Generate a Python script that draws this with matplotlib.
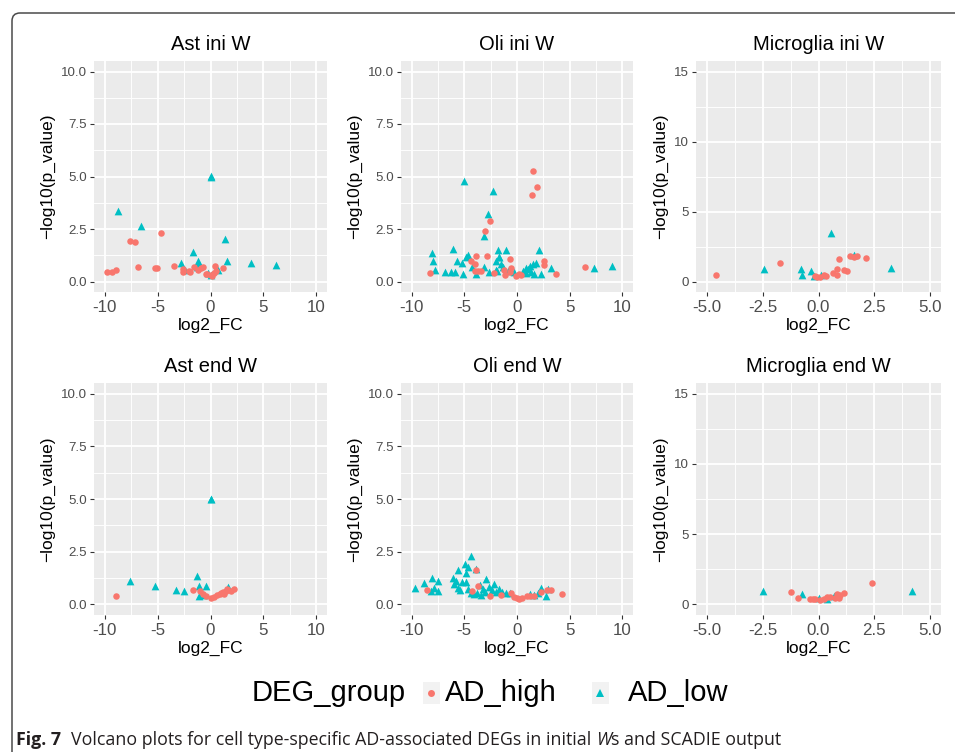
import matplotlib
matplotlib.use("Agg")
import matplotlib.pyplot as plt
from matplotlib import font_manager
from matplotlib.lines import Line2D
from matplotlib.patches import Rectangle, FancyBboxPatch
from matplotlib.ticker import MultipleLocator, FormatStrFormatter

# ---------------------------------------------------------------- data
# log2 fold change / -log10(p) per cell type, split by DEG group
AST_INI_HIGH_FC = [-9.75, -9.3, -8.95, -7.64, -7.1, -4.64, -6.82, -5.27, -5.05, -3.4, -2.55, -2.55, -2.0,
                   -1.9, -1.6, -1.15, -0.88, -0.7, -0.4, -0.33, 0.05, 0.1, 0.3, 0.4, 0.5, 1.18]
AST_INI_HIGH_P = [0.45, 0.44, 0.56, 1.94, 1.9, 2.31, 0.70, 0.62, 0.62, 0.73, 0.6, 0.47, 0.48,
                  0.46, 0.68, 0.55, 0.65, 0.7, 0.38, 0.38, 0.32, 0.25, 0.4, 0.72, 0.52, 0.65]
AST_INI_LOW_FC = [0.0, 0.02, -8.77, -6.6, 1.37, -1.68, 1.56, 3.83, 6.22, -2.75, -1.2, -1.1, -2.4,
                  -1.27, -0.24, 0.05, 0.75]
AST_INI_LOW_P = [5.03, 5.0, 3.36, 2.64, 2.04, 1.39, 1.0, 0.89, 0.80, 0.88, 1.0, 0.82, 0.55,
                 0.68, 0.42, 0.32, 0.55]

OLI_INI_HIGH_FC = [1.51, 1.92, 1.45, -2.52, -3.0, -3.88, -2.84, -0.68, -4.4, -4.0, -8.26, -4.0, -3.7,
                   -3.4, -2.15, -1.2, -0.67, -0.6, -0.1, 0.22, 0.35, 2.52, 2.52, 3.68, 6.42, -1.15]
OLI_INI_HIGH_P = [5.24, 4.51, 4.14, 2.9, 2.42, 1.21, 1.23, 1.05, 0.98, 0.84, 0.40, 0.5, 0.48,
                  0.5, 0.42, 0.55, 0.45, 0.66, 0.27, 0.35, 0.3, 0.96, 0.8, 0.37, 0.68, 0.3]
OLI_INI_LOW_FC = [-5.07, -2.3, -2.74, -3.15, -8.04, -7.98, -7.8, -6.08, -6.8, -6.3, -5.9, -5.1, -5.7,
                  -5.2, -4.8, -4.66, -4.3, -3.9, -3.12, -2.65, -1.8, -1.07, -2.0, -1.7, -1.5, -1.3,
                  -1.85, -0.9, -0.3, 0.53, 0.85, 1.2, 1.5, 1.8, 1.3, 1.6, 2.05, 2.25, 3.2, 7.3,
                  9.04, -1.67, -2.0, 0.9, 1.0]
OLI_INI_LOW_P = [4.78, 4.3, 3.23, 2.18, 1.35, 1.0, 0.55, 1.56, 0.47, 0.47, 0.47, 0.37, 0.97,
                 0.9, 1.16, 1.24, 0.7, 0.36, 0.7, 0.43, 1.51, 1.51, 1.0, 1.16, 0.85, 0.68,
                 0.5, 0.5, 0.43, 0.5, 0.65, 0.73, 0.82, 0.86, 0.43, 0.36, 1.51, 0.38, 0.62, 0.66,
                 0.75, 1.16, 0.55, 0.4, 0.6]

MIC_INI_HIGH_FC = [-4.61, -1.73, -0.15, -0.07, 0.08, 0.23, 0.35, 0.65, 0.83, 0.83, 0.92, 1.16, 1.28,
                   1.43, 1.58, 1.73, 2.14]
MIC_INI_HIGH_P = [0.48, 1.31, 0.38, 0.31, 0.31, 0.43, 0.38, 0.62, 0.91, 0.5, 1.6, 0.79, 0.74,
                  1.79, 1.76, 1.79, 1.67]
MIC_INI_LOW_FC = [0.56, -2.45, -0.78, -0.75, -0.33, -0.2, 0.12, 1.58, 3.26]
MIC_INI_LOW_P = [3.46, 0.91, 0.91, 0.48, 0.74, 0.36, 0.43, 1.89, 0.95]

AST_END_HIGH_FC = [-8.95, -1.64, -0.95, -0.7, -0.38, 0.0, 0.35, 0.6, 0.9, 1.2, 1.5, 1.6, 1.9, 2.2, 1.0, 1.3]
AST_END_HIGH_P = [0.38, 0.68, 0.65, 0.5, 0.38, 0.3, 0.35, 0.45, 0.5, 0.57, 0.65, 0.75, 0.62, 0.72, 0.55, 0.5]
AST_END_LOW_FC = [0.0, 0.02, -7.56, -5.27, -3.24, -2.5, -1.24, -1.08, -0.4, -1.04, -0.6, 1.63]
AST_END_LOW_P = [5.02, 5.0, 1.11, 0.88, 0.68, 0.62, 1.35, 0.88, 0.86, 0.4, 0.45, 0.82]

OLI_END_HIGH_FC = [-8.5, -3.9, -4.27, -3.7, -2.6, -0.55, -0.3, 0.0, 0.15, 0.95, 1.25, 1.6, 2.25,
                   2.85, 3.2, 4.3, -1.5, 0.5]
OLI_END_HIGH_P = [0.7, 1.64, 0.65, 0.88, 0.4, 0.52, 0.33, 0.3, 0.25, 0.4, 0.42, 0.4, 0.57,
                  0.67, 0.7, 0.5, 0.45, 0.3]
OLI_END_LOW_FC = [-9.7, -8.8, -8.1, -7.5, -7.9, -8.2, -7.5, -6.1, -5.6, -4.9, -4.86, -4.6, -4.4,
                  -3.9, -6.0, -5.8, -5.6, -5.4, -5.2, -4.8, -4.4, -4.1, -4.6, -2.9, -3.5, -3.2,
                  -3.0, -2.7, -2.4, -2.2, -2.0, -1.7, -1.4, -1.0, -0.7, -3.8, -3.4, 1.2, 1.6,
                  2.3, 2.9, 2.75, 2.0]
OLI_END_LOW_P = [0.77, 1.0, 1.24, 1.1, 0.78, 0.62, 0.65, 1.24, 1.62, 1.9, 1.5, 1.77, 2.31,
                 1.7, 0.95, 1.1, 0.8, 0.7, 1.05, 1.05, 0.55, 0.5, 0.75, 1.2, 0.9, 0.75,
                 0.6, 0.85, 0.7, 0.95, 0.6, 0.75, 0.6, 0.55, 0.55, 0.55, 0.45, 0.5, 0.45,
                 0.8, 0.72, 0.4, 0.55]

MIC_END_HIGH_FC = [-1.23, -0.9, -0.38, -0.25, -0.15, 0.07, 0.23, 0.38, 0.53, 0.75, 0.83, 0.98, 1.16, 2.4, 0.9]
MIC_END_HIGH_P = [0.91, 0.43, 0.38, 0.38, 0.38, 0.3, 0.36, 0.53, 0.53, 0.43, 0.77, 0.67, 0.84, 1.55, 0.48]
MIC_END_LOW_FC = [-2.5, -0.75, 0.0, 0.37, 0.68, 4.18]
MIC_END_LOW_P = [0.95, 0.72, 0.43, 0.36, 0.6, 0.96]

PANELS = [
    ("Ast ini W", AST_INI_HIGH_FC, AST_INI_HIGH_P, AST_INI_LOW_FC, AST_INI_LOW_P),
    ("Oli ini W", OLI_INI_HIGH_FC, OLI_INI_HIGH_P, OLI_INI_LOW_FC, OLI_INI_LOW_P),
    ("Microglia ini W", MIC_INI_HIGH_FC, MIC_INI_HIGH_P, MIC_INI_LOW_FC, MIC_INI_LOW_P),
    ("Ast end W", AST_END_HIGH_FC, AST_END_HIGH_P, AST_END_LOW_FC, AST_END_LOW_P),
    ("Oli end W", OLI_END_HIGH_FC, OLI_END_HIGH_P, OLI_END_LOW_FC, OLI_END_LOW_P),
    ("Microglia end W", MIC_END_HIGH_FC, MIC_END_HIGH_P, MIC_END_LOW_FC, MIC_END_LOW_P),
]

# ---------------------------------------------------------------- style
W, H = 955, 752
HIGH_COL = "#F8766D"
LOW_COL = "#00BFC4"
PANEL_BG = "#EBEBEB"


def pick_font(names):
    for n in names:
        try:
            font_manager.findfont(n, fallback_to_default=False)
            return n
        except ValueError:
            continue
    return "DejaVu Sans"


BASE_FONT = pick_font(["Liberation Sans", "Arial", "DejaVu Sans"])
CAPTION_FONT = pick_font(["Liberation Sans Narrow", "Open Sans", "Liberation Sans"])
plt.rcParams["font.family"] = [BASE_FONT, "DejaVu Sans"]

# panel boxes in pixels (left, right) / (top, bottom)
COLS = [(94, 327), (401, 633), (696, 941)]
ROWS = [(61, 292), (383, 615)]


def expand(lo, hi, frac=0.05):
    d = (hi - lo) * frac
    return lo - d, hi + d


fig = plt.figure(figsize=(W / 100, H / 100), dpi=100)

for i, (title, hx, hy, lx, ly) in enumerate(PANELS):
    r, c = divmod(i, 3)
    (x0, x1), (y0, y1) = COLS[c], ROWS[r]
    ax = fig.add_axes([x0 / W, 1 - y1 / H, (x1 - x0) / W, (y1 - y0) / H])
    ax.set_facecolor(PANEL_BG)
    for s in ax.spines.values():
        s.set_visible(False)

    microglia = title.startswith("Microglia")
    if microglia:
        ax.set_xlim(*expand(-5, 5))
        ax.set_ylim(*expand(0, 15))
        ax.xaxis.set_major_locator(MultipleLocator(2.5))
        ax.xaxis.set_minor_locator(MultipleLocator(1.25))
        ax.xaxis.set_major_formatter(FormatStrFormatter("%.1f"))
        ax.yaxis.set_major_locator(MultipleLocator(5))
        ax.yaxis.set_minor_locator(MultipleLocator(2.5))
        ax.yaxis.set_major_formatter(FormatStrFormatter("%d"))
    else:
        ax.set_xlim(*expand(-10, 10))
        ax.set_ylim(*expand(0, 10))
        ax.xaxis.set_major_locator(MultipleLocator(5))
        ax.xaxis.set_minor_locator(MultipleLocator(2.5))
        ax.xaxis.set_major_formatter(FormatStrFormatter("%d"))
        ax.yaxis.set_major_locator(MultipleLocator(2.5))
        ax.yaxis.set_minor_locator(MultipleLocator(1.25))
        ax.yaxis.set_major_formatter(FormatStrFormatter("%.1f"))

    ax.grid(which="major", color="white", lw=1.3)
    ax.grid(which="minor", color="white", lw=0.65)
    ax.set_axisbelow(True)
    ax.tick_params(which="minor", length=0)
    ax.tick_params(which="major", length=3, width=0.8, color="#333333")
    ax.tick_params(axis="x", labelsize=12.2, labelcolor="#4D4D4D", pad=3)
    ax.tick_params(axis="y", labelsize=9.6, labelcolor="#4D4D4D", pad=2)

    ax.scatter(lx, ly, marker="^", s=31, color=LOW_COL, linewidths=0, zorder=3)
    ax.scatter(hx, hy, marker="o", s=22, color=HIGH_COL, linewidths=0, zorder=3)

    ax.set_title(title, fontsize=14.5, pad=8)
    ax.set_xlabel("log2_FC", fontsize=12.5, labelpad=2)
    ax.set_ylabel("\u2212log10(p_value)", fontsize=12.5, labelpad=4)

# ---------------------------------------------------------------- legend (drawn in pixels)
LEG_SIZE = 21
LEG_Y = H - 693
fig.text(252 / W, LEG_Y / H, "DEG_group", fontsize=LEG_SIZE, va="center", ha="left")
for key_x, label_x, label, marker, ms, col in [(431, 445, "AD_high", "o", 5, HIGH_COL),
                                               (600, 628, "AD_low", "^", 5.5, LOW_COL)]:
    fig.add_artist(Rectangle((key_x - 8.5, LEG_Y - 11), 17, 22, transform=None,
                             facecolor="#F2F2F2", edgecolor="none"))
    fig.add_artist(Line2D([key_x], [LEG_Y], transform=None, marker=marker, ls="none",
                          ms=ms, color=col, mew=0))
    fig.text(label_x / W, LEG_Y / H, label, fontsize=LEG_SIZE, va="center", ha="left")

# ---------------------------------------------------------------- frame + caption
frame = FancyBboxPatch((12, -40), 1000, 739 + 40, boxstyle="round,pad=0,rounding_size=8",
                       transform=None, facecolor="none", edgecolor="#4A4A4A", lw=1.1)
fig.add_artist(frame)

renderer = fig.canvas.get_renderer()
cap_y = 1 - 745 / H
cap_size = 12.8
cap_col = "#231F20"
x = 16
parts = [("Fig. 7", "bold", "normal", 10), ("Volcano plots for cell type-specific AD-associated DEGs in initial ", "normal", "normal", 0),
         ("W", "normal", "italic", 0), ("s and SCADIE output", "normal", "normal", 0)]
for txt, weight, style, gap in parts:
    t = fig.text(x / W, cap_y, txt, fontsize=cap_size, fontweight=weight, fontstyle=style,
                 family=[CAPTION_FONT, "DejaVu Sans"], color=cap_col, va="baseline", ha="left")
    x = t.get_window_extent(renderer=renderer).x1 + gap

fig.savefig("out.png", dpi=100)
